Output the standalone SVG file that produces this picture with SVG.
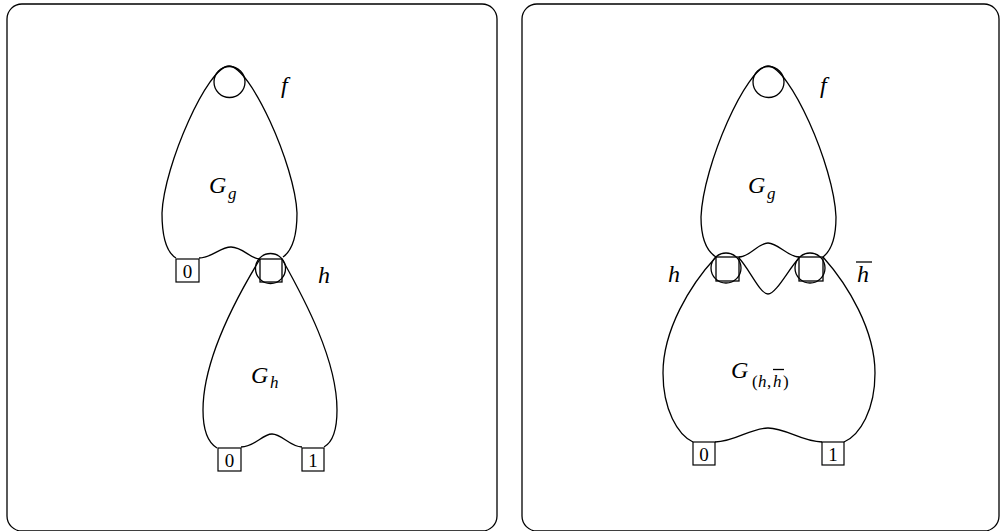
<svg xmlns="http://www.w3.org/2000/svg" width="1005" height="531" viewBox="0 0 1005 531">
<style>
.frame{fill:none;stroke:#000;stroke-width:1.3}
.ln{fill:none;stroke:#000;stroke-width:1.3}
.box{fill:#fff;stroke:#000;stroke-width:1.2}
.num{font-family:"Liberation Serif",serif;font-size:19px;text-anchor:middle}
.it{font-family:"Liberation Serif",serif;font-style:italic;font-size:24px}
.sub{font-family:"Liberation Serif",serif;font-style:italic;font-size:17px}
.rm{font-family:"Liberation Serif",serif;font-size:17px}
</style>
<rect class="frame" x="7" y="4" width="490" height="527" rx="15"/>
<rect class="frame" x="522" y="4" width="477" height="527" rx="15"/>

<g id="left-Gg">
<path class="ln" d="M176 258 C166 252,162 235,162 213 C164 165,208 66,229 66 C250 66,295 165,297 213 C297 235,293 250,283 257"/>
<path class="ln" d="M199 258 C212 258,220 247,231 247 C243 247,250 259,260 259"/>
<circle class="ln" cx="229.5" cy="82" r="15.5"/>
<text class="it" x="209" y="193">G</text><text class="sub" x="228" y="199">g</text>
<text class="it" x="281" y="93">f</text>
</g>
<g id="left-box0-g">
<rect class="box" x="176" y="259" width="23" height="23"/>
<text class="num" x="187.5" y="277.5">0</text>
</g>
<g id="left-h">
<circle class="ln" cx="270.5" cy="268.5" r="15"/>
<rect class="ln" x="260" y="259" width="22" height="23"/>
<text class="it" x="318" y="283">h</text>
</g>
<g id="left-Gh">
<path class="ln" d="M260 259 C235 300,203 360,203 410 C203 430,207 442,217 448"/>
<path class="ln" d="M282 259 C305 300,337 360,337 410 C337 430,333 442,324 447"/>
<path class="ln" d="M241 447 C255 447,262 434,272 434 C282 434,290 447,302 447"/>
<text class="it" x="251" y="383">G</text><text class="sub" x="270" y="388">h</text>
</g>
<g id="left-box0-h">
<rect class="box" x="218" y="448" width="23" height="23"/>
<text class="num" x="229.5" y="466.5">0</text>
</g>
<g id="left-box1-h">
<rect class="box" x="302" y="448" width="22" height="23"/>
<text class="num" x="313" y="466.5">1</text>
</g>

<g id="right-Gg">
<path class="ln" d="M716 257 C705 250,701 237,701 217 C703 165,747 66,768 66 C789 66,834 165,836 217 C836 237,832 250,823 257"/>
<path class="ln" d="M739 257 C750 257,758 243,768 243 C778 243,788 257,799 257"/>
<circle class="ln" cx="768.5" cy="82" r="15.5"/>
<text class="it" x="748" y="193">G</text><text class="sub" x="767" y="199">g</text>
<text class="it" x="820" y="93">f</text>
</g>
<g id="right-h">
<circle class="ln" cx="726" cy="268" r="15"/>
<rect class="ln" x="716" y="257" width="23" height="24"/>
<text class="it" x="668" y="282">h</text>
</g>
<g id="right-hbar">
<circle class="ln" cx="810" cy="268" r="15"/>
<rect class="ln" x="799" y="257" width="24" height="24"/>
<text class="it" x="857" y="282">h</text>
<line class="ln" x1="856" y1="262" x2="872" y2="262" stroke-width="1.6"/>
</g>
<g id="right-Ghh">
<path class="ln" d="M739 258 C750 270,760 294,768 294 C776 294,788 270,799 258"/>
<path class="ln" d="M716 257 C690 285,663 330,663 373 C663 410,678 435,693 442"/>
<path class="ln" d="M823 257 C848 285,875 330,875 373 C875 410,860 435,844 442"/>
<path class="ln" d="M715 442 C735 442,750 428,768 428 C786 428,802 442,822 442"/>
<text class="it" x="731" y="378">G</text>
<text class="rm" x="752" y="387">(</text><text class="sub" x="758" y="387">h</text><text class="rm" x="767" y="387">,</text><text class="sub" x="773" y="387">h</text><text class="rm" x="783" y="387">)</text>
<line class="ln" x1="773" y1="369.5" x2="784" y2="369.5" stroke-width="1.1"/>
</g>
<g id="right-box0">
<rect class="box" x="693" y="442" width="22" height="23"/>
<text class="num" x="704" y="460.5">0</text>
</g>
<g id="right-box1">
<rect class="box" x="822" y="442" width="22" height="23"/>
<text class="num" x="833" y="460.5">1</text>
</g>
</svg>
